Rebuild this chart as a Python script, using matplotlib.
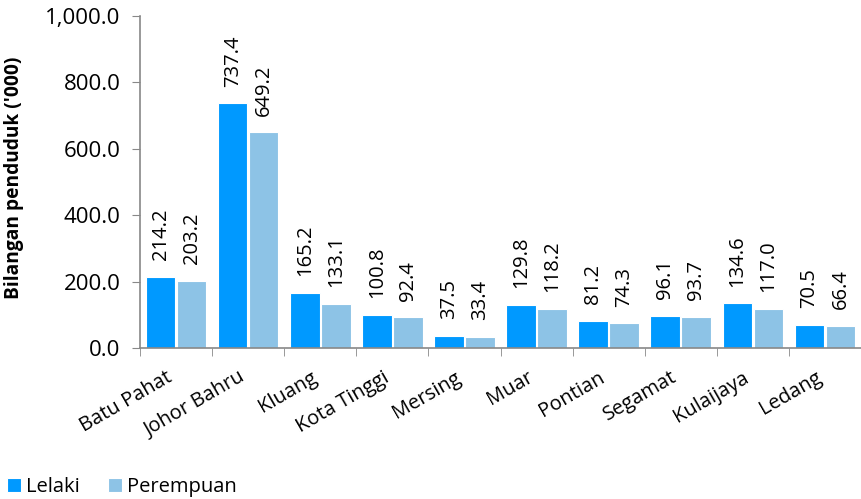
import matplotlib
matplotlib.use("Agg")
import matplotlib.pyplot as plt
import numpy as np

categories = ["Batu Pahat", "Johor Bahru", "Kluang", "Kota Tinggi", "Mersing",
              "Muar", "Pontian", "Segamat", "Kulaijaya", "Ledang"]
lelaki = [214.2, 737.4, 165.2, 100.8, 37.5, 129.8, 81.2, 96.1, 134.6, 70.5]
perempuan = [203.2, 649.2, 133.1, 92.4, 33.4, 118.2, 74.3, 93.7, 117.0, 66.4]
series_names = ["Lelaki", "Perempuan"]
yticks = [0, 200, 400, 600, 800, 1000]

plt.rcParams['font.family'] = ['Open Sans', 'DejaVu Sans']
FS = 14.5

fig = plt.figure(figsize=(8.61, 4.99), dpi=100)
ax = fig.add_axes([140/861, 1-348/499, 1-140/861, (348-16)/499])

x = np.arange(len(categories))
w = 0.41
c1 = "#0099FF"
c2 = "#8DC3E6"
b1 = ax.bar(x - w/2 - 0.01, lelaki, w, color=c1, edgecolor="white", linewidth=0.8, label=series_names[0])
b2 = ax.bar(x + w/2 + 0.01, perempuan, w, color=c2, edgecolor="white", linewidth=0.8, label=series_names[1])

for bars, vals in ((b1, lelaki), (b2, perempuan)):
    for r, v in zip(bars, vals):
        ax.annotate(f"{v:.1f}", (r.get_x() + r.get_width()/2, v),
                    xytext=(0, 12), textcoords="offset points",
                    rotation=90, ha="center", va="bottom", fontsize=FS)

ax.set_xlim(-0.5, len(categories) - 0.5)
ax.set_ylim(0, 1000)
ax.set_yticks(yticks)
ax.set_yticklabels([f"{v:,.1f}" for v in yticks], fontsize=16)
ax.tick_params(axis="y", length=6, color="#888888", pad=8)

ax.set_xticks(x)
ax.set_xticklabels(categories, rotation=30, ha="right", fontsize=FS)
ax.tick_params(axis="x", which="major", length=0, pad=14)
ax.set_xticks(np.arange(len(categories)) - 0.5, minor=True)
ax.tick_params(axis="x", which="minor", length=6, color="#888888")

for s in ["top", "right"]:
    ax.spines[s].set_visible(False)
for s in ["left", "bottom"]:
    ax.spines[s].set_color("#888888")
    ax.spines[s].set_linewidth(1.2)

fig.text(14/861, 1-178/499, "Bilangan penduduk ('000)", rotation=90,
         ha="center", va="center", fontsize=13.8, fontweight="bold")

fig.legend(handles=[b1, b2], loc="lower left", bbox_to_anchor=(0.008, 0.004),
           ncol=2, frameon=False, fontsize=14.5, handlelength=0.7, handleheight=0.7,
           handletextpad=0.25, columnspacing=1.4, borderaxespad=0.0, borderpad=0.0)

fig.savefig("out.png", dpi=100)
